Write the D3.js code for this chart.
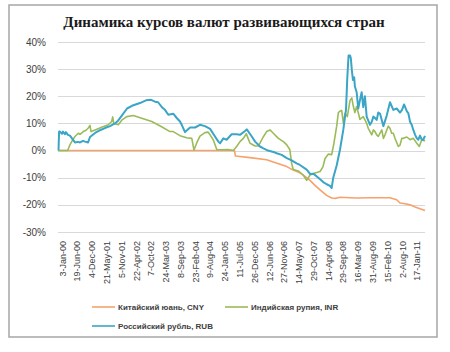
<!DOCTYPE html>
<html>
<head>
<meta charset="utf-8">
<script src="https://cdn.jsdelivr.net/npm/d3@7"></script>
<style>
  body { margin: 0; background: #fff; }
  svg { display: block; }
</style>
</head>
<body>
<svg id="chart" width="450" height="352"></svg>
<script>
// ---- data (values in %) ----
var xLabels = ["3-Jan-00","19-Jun-00","4-Dec-00","21-May-01","5-Nov-01","22-Apr-02","7-Oct-02",
  "24-Mar-03","8-Sep-03","23-Feb-04","9-Aug-04","24-Jan-05","11-Jul-05","26-Dec-05","12-Jun-06",
  "27-Nov-06","14-May-07","29-Oct-07","14-Apr-08","29-Sep-08","16-Mar-09","31-Aug-09","15-Feb-10",
  "2-Aug-10","17-Jan-11"];

var yTicks = [40, 30, 20, 10, 0, -10, -20, -30];

var seriesNames = ["Китайский юань, CNY", "Индийская рупия, INR", "Российский рубль, RUB"];

var cny = [
  ["2000-01-03",0],["2005-06-25",0],["2005-07-07",-2],["2005-12-19",-2.6],["2006-06-26",-3.4],
  ["2006-09-10",-4.2],["2006-11-25",-5],["2007-02-10",-5.9],["2007-04-24",-7.2],["2007-07-09",-8.2],
  ["2007-09-05",-9.5],["2007-11-01",-11],["2007-12-28",-12.8],["2008-02-23",-14.5],["2008-05-08",-16.5],
  ["2008-07-04",-17.5],["2008-08-22",-17.6],["2008-10-07",-17.2],["2009-01-29",-17.4],["2009-04-14",-17.5],
  ["2009-09-13",-17.4],["2010-04-28",-17.4],["2010-07-13",-18.1],["2010-08-20",-19.3],["2010-10-16",-19.6],
  ["2010-12-12",-20],["2011-02-08",-20.8],["2011-04-04",-21.4],["2011-05-31",-22.1]
];

var inr = [
  ["2000-01-03",0],["2000-04-16",0],["2000-05-12",2.1],["2000-06-04",3.5],["2000-07-08",5.2],
  ["2000-08-15",6.4],["2000-09-04",6],["2000-10-11",7],["2000-11-11",7.5],["2000-12-07",8.3],
  ["2000-12-26",9.3],["2001-01-07",7],["2001-02-22",7.6],["2001-05-07",8.6],["2001-07-22",9.5],
  ["2001-08-30",10.7],["2001-09-10",12.4],["2001-09-22",10],["2001-11-13",9.5],["2001-12-22",11.2],
  ["2002-02-17",12.5],["2002-05-02",12.9],["2002-08-06",11.9],["2002-11-28",10.7],["2003-03-20",8.8],
  ["2003-06-23",7],["2003-07-30",7],["2003-10-15",5.5],["2003-12-30",4.7],["2004-02-26",4.5],
  ["2004-03-22",0.2],["2004-04-22",2.8],["2004-05-29",5.3],["2004-07-25",6.6],["2004-08-28",6.8],
  ["2004-09-21",5.8],["2004-10-28",3.9],["2004-12-06",0.4],["2005-02-01",0.3],["2005-04-12",0.4],
  ["2005-06-12",0],["2005-07-20",1.5],["2005-08-27",3.3],["2005-10-04",4.5],["2005-11-07",6.2],
  ["2005-11-27",4.5],["2005-12-19",2.7],["2006-02-15",1.7],["2006-03-19",1.7],["2006-04-11",2.7],
  ["2006-05-18",5],["2006-06-26",7],["2006-08-03",7.6],["2006-09-10",6.4],["2006-11-06",4.5],
  ["2007-01-02",3.3],["2007-02-10",2.1],["2007-03-17",0.3],["2007-04-06",-4.7],["2007-04-24",-7],
  ["2007-06-20",-7.5],["2007-08-16",-9],["2007-09-24",-11],["2007-11-01",-9],["2007-12-28",-8.3],
  ["2008-02-23",-7.7],["2008-03-27",-6],["2008-04-19",-3],["2008-05-26",-1.3],["2008-07-04",-1.5],
  ["2008-07-30",2.7],["2008-08-30",9],["2008-09-18",14],["2008-10-07",14.5],["2008-10-26",14.8],
  ["2008-11-14",10],["2008-12-03",13.7],["2008-12-29",12.5],["2009-01-29",18.5],["2009-02-18",19.4],
  ["2009-03-06",16.5],["2009-03-25",14],["2009-04-14",16.2],["2009-05-02",14],["2009-05-21",11.5],
  ["2009-06-28",12.5],["2009-08-06",10],["2009-08-24",8.2],["2009-09-13",7],["2009-10-03",5.8],
  ["2009-10-21",7.6],["2009-11-09",7],["2009-11-28",5.8],["2009-12-16",5.2],["2010-01-25",7.6],
  ["2010-02-12",4.5],["2010-03-02",5.8],["2010-04-09",9],["2010-04-28",8.2],["2010-05-17",6.4],
  ["2010-06-05",6.4],["2010-06-24",4.5],["2010-08-01",1.5],["2010-08-20",2],["2010-09-09",4.5],
  ["2010-09-27",4.5],["2010-11-05",5],["2010-12-12",4],["2011-01-19",4.5],["2011-02-27",2.7],
  ["2011-03-27",1.5],["2011-04-24",4],["2011-05-31",3.5]
];

var rub = [
  ["2000-01-03",0],["2000-01-10",7],["2000-01-20",7],["2000-02-12",6.2],["2000-02-23",7],
  ["2000-03-16",6],["2000-03-27",6.8],["2000-04-19",5.8],["2000-05-12",5.5],["2000-06-15",4],
  ["2000-07-08",3],["2000-08-12",3.2],["2000-09-04",3],["2000-10-08",3.6],["2000-10-30",3.3],
  ["2000-12-04",3],["2000-12-26",5],["2001-02-22",6.5],["2001-04-18",7.5],["2001-06-14",8.3],
  ["2001-08-10",9],["2001-10-06",10],["2001-11-10",11],["2001-12-25",13],["2002-02-20",15.5],
  ["2002-04-17",16.5],["2002-07-17",17.5],["2002-09-24",18.5],["2002-11-20",18.7],["2003-01-05",18],
  ["2003-02-08",17.8],["2003-03-23",16],["2003-04-27",15],["2003-06-04",13.2],["2003-07-30",13.6],
  ["2003-09-08",12],["2003-10-15",10.7],["2003-11-04",9.5],["2003-12-11",6.8],["2004-02-07",8.5],
  ["2004-04-03",8.5],["2004-05-29",9.5],["2004-07-25",9],["2004-09-21",8],["2004-11-16",5.2],
  ["2004-12-24",3.3],["2005-01-13",2.7],["2005-02-19",4.5],["2005-03-28",4],["2005-05-24",6],
  ["2005-07-20",6],["2005-08-27",5.8],["2005-10-23",7.2],["2005-11-12",7.8],["2006-01-08",5.2],
  ["2006-02-15",3.3],["2006-04-11",1.5],["2006-05-15",0.9],["2006-07-11",0],["2006-09-10",-0.5],
  ["2006-10-18",-1],["2006-12-14",-1.6],["2007-02-10",-2.8],["2007-04-06",-3.6],["2007-06-02",-4.7],
  ["2007-07-09",-5.3],["2007-09-24",-7],["2007-11-01",-8.6],["2007-12-08",-8.5],["2008-02-04",-10],
  ["2008-03-30",-11.6],["2008-05-08",-12.4],["2008-06-15",-13],["2008-07-04",-13.8],["2008-07-22",-10],
  ["2008-08-30",-5.5],["2008-10-07",0.4],["2008-11-14",7.8],["2008-12-03",12.5],["2008-12-14",15],
  ["2008-12-29",27],["2009-01-12",35],["2009-01-29",35],["2009-02-07",34],["2009-02-18",29.7],
  ["2009-03-03",26],["2009-03-17",27],["2009-03-25",23.6],["2009-04-14",21.5],["2009-05-02",15.5],
  ["2009-05-21",18.5],["2009-06-10",21.5],["2009-06-28",16],["2009-07-17",20],["2009-08-06",12.5],
  ["2009-09-13",9.5],["2009-10-03",10.6],["2009-10-21",12.5],["2009-11-09",12],["2009-11-28",11.3],
  ["2009-12-16",14],["2010-01-06",13.5],["2010-01-25",11.2],["2010-02-12",9],["2010-03-21",12.8],
  ["2010-04-28",17.8],["2010-06-05",15],["2010-07-13",15.5],["2010-08-20",14],["2010-09-12",15],
  ["2010-10-05",17],["2010-11-05",14.5],["2010-11-23",13.7],["2010-12-12",10.6],["2011-01-01",9.4],
  ["2011-01-19",7.5],["2011-02-08",5.8],["2011-02-27",4.5],["2011-03-16",4],["2011-04-04",5.5],
  ["2011-04-24",4],["2011-05-11",4],["2011-05-31",5.4]
];

var colors = ["#F5A26C", "#9BBB59", "#3AA5C6"];

// ---- setup ----
var svg = d3.select("#chart");
var parseDate = d3.timeParse("%Y-%m-%d");
var parseTick = d3.timeParse("%d-%b-%y");

var x = d3.scaleTime()
    .domain([parseDate("2000-01-03"), parseDate("2011-05-31")])
    .range([58.5, 425]);

var y = d3.scaleLinear()
    .domain([-30, 40])
    .range([232, 42]);

// frame
svg.append("rect")
    .attr("x", 9).attr("y", 5)
    .attr("width", 428).attr("height", 332)
    .style("fill", "#fff")
    .style("stroke", "#a6a6a6")
    .style("stroke-width", 1.5);

// title
svg.append("text")
    .attr("x", 224)
    .attr("y", 27)
    .style("text-anchor", "middle")
    .style("font-family", "Liberation Serif, serif")
    .style("font-weight", "bold")
    .style("font-size", "15px")
    .style("fill", "#1a1a1a")
    .text("Динамика курсов валют развивающихся стран");

// gridlines
svg.append("g").selectAll("line")
    .data(yTicks)
    .enter().append("line")
    .attr("x1", 58).attr("x2", 425)
    .attr("y1", function(d) { return Math.round(y(d)) + 0.5; })
    .attr("y2", function(d) { return Math.round(y(d)) + 0.5; })
    .style("stroke", "#d9d9d9")
    .style("stroke-width", 1);

// y labels
svg.append("g").selectAll("text")
    .data(yTicks)
    .enter().append("text")
    .attr("x", 46)
    .attr("y", function(d) { return y(d); })
    .attr("dy", "0.35em")
    .style("text-anchor", "end")
    .style("font-family", "Liberation Sans, Arial, sans-serif")
    .style("font-size", "10px")
    .style("fill", "#404040")
    .text(function(d) { return d + "%"; });

// x labels
svg.append("g").selectAll("text")
    .data(xLabels)
    .enter().append("text")
    .attr("transform", function(d) {
        return "translate(" + (x(parseTick(d)) + 4) + ",241) rotate(-90)";
    })
    .attr("dy", "0.35em")
    .style("text-anchor", "end")
    .style("font-family", "Liberation Sans, Arial, sans-serif")
    .style("font-size", "9px")
    .style("fill", "#404040")
    .text(function(d) { return d; });

// lines
var line = d3.line()
    .x(function(d) { return x(parseDate(d[0])); })
    .y(function(d) { return y(d[1]); });

[cny, inr, rub].forEach(function(s, i) {
    svg.append("path")
        .datum(s)
        .attr("d", line)
        .style("fill", "none")
        .style("stroke", colors[i])
        .style("stroke-width", i == 2 ? 2 : 1.6)
        .style("stroke-linejoin", "round");
});

// legend
var legendPos = [[92, 307], [225, 307], [92, 326]];
var legend = svg.append("g").selectAll("g")
    .data(seriesNames)
    .enter().append("g")
    .attr("transform", function(d, i) {
        return "translate(" + legendPos[i][0] + "," + legendPos[i][1] + ")";
    });

legend.append("line")
    .attr("x1", 0).attr("x2", 23)
    .style("stroke", function(d, i) { return colors[i]; })
    .style("stroke-width", 1.6);

legend.append("text")
    .attr("x", 26)
    .attr("dy", "0.35em")
    .style("font-family", "Liberation Sans, Arial, sans-serif")
    .style("font-size", "8px")
    .style("font-weight", "bold")
    .style("fill", "#404040")
    .text(function(d) { return d; });
</script>
</body>
</html>
